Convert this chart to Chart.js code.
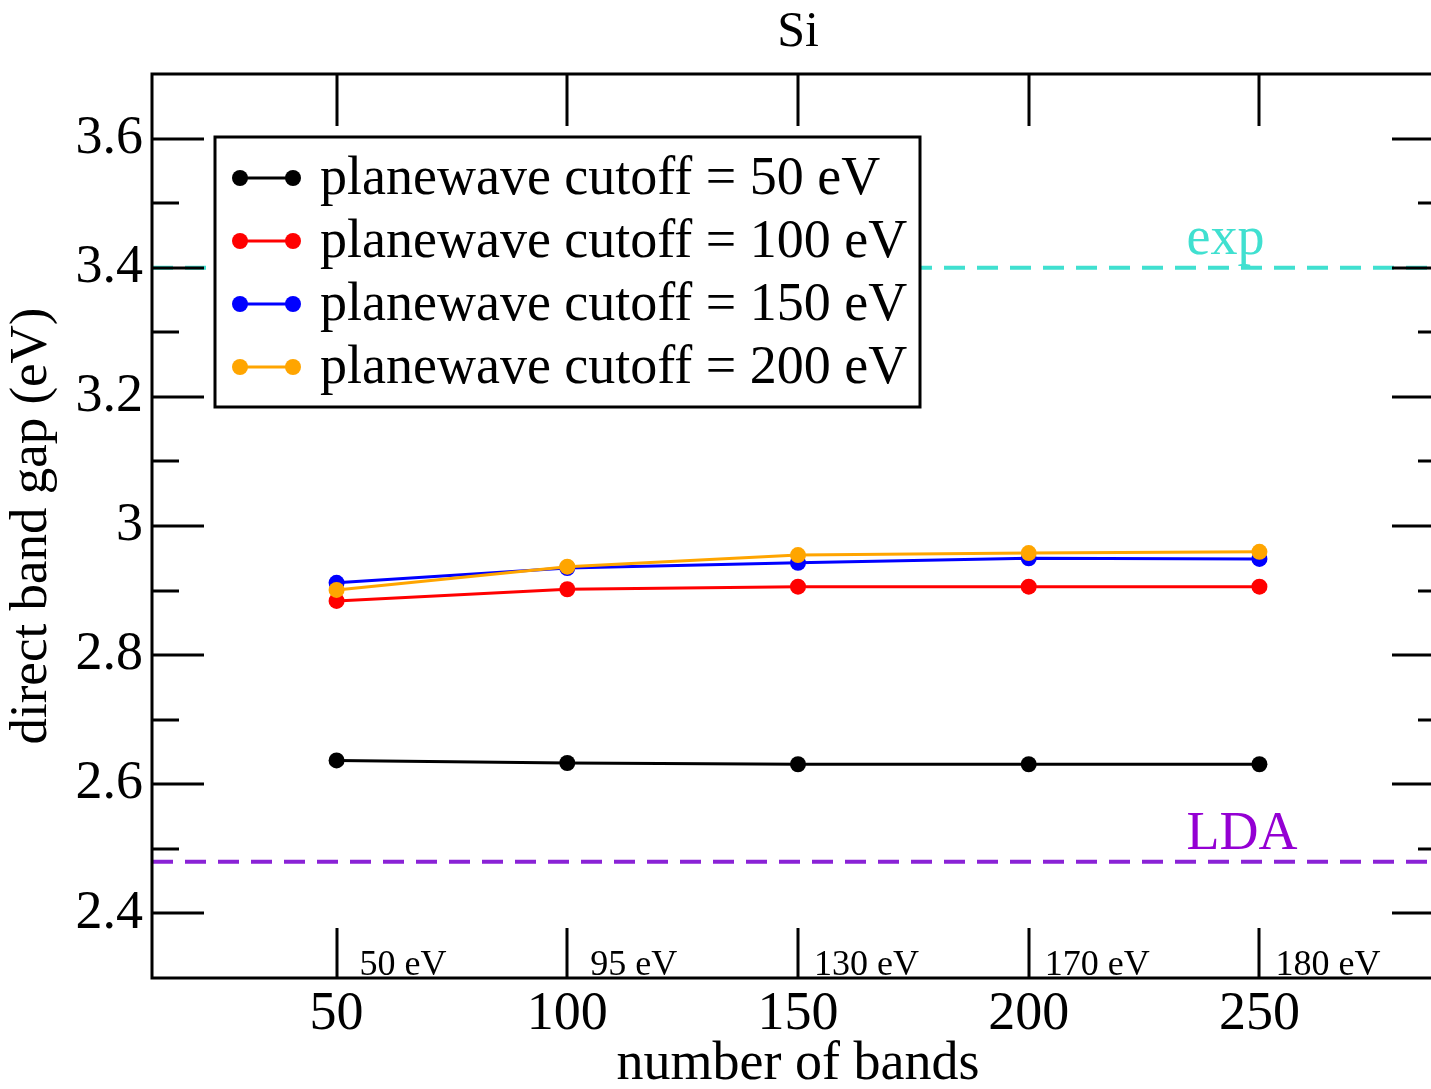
<!DOCTYPE html>
<html>
<head>
<meta charset="utf-8">
<title>Si band gap</title>
<script src="https://cdn.jsdelivr.net/npm/chart.js@4.4.1/dist/chart.umd.min.js"></script>
<style>
    html, body { margin: 0; padding: 0; overflow: hidden; background: #fff; }
    #wrap { width: 1460px; height: 1089px; }
</style>
</head>
<body>
<div id="wrap"><canvas id="graficoGap" width="1460" height="1089"></canvas></div>
<script>
// dados
const nBands = [50, 100, 150, 200, 250];
const gapCut50 = [2.637, 2.633, 2.631, 2.631, 2.631];
const gapCut100 = [2.884, 2.902, 2.906, 2.906, 2.906];
const gapCut150 = [2.912, 2.935, 2.943, 2.950, 2.949];
const gapCut200 = [2.901, 2.937, 2.955, 2.958, 2.960];
const seriesLabels = [
    'planewave cutoff = 50 eV',
    'planewave cutoff = 100 eV',
    'planewave cutoff = 150 eV',
    'planewave cutoff = 200 eV'
];
const expGap = 3.4;
const ldaGap = 2.48;
const cutoffNotes = ['50 eV', '95 eV', '130 eV', '170 eV', '180 eV'];
const xTicks = [50, 100, 150, 200, 250];
const yTicks = [2.4, 2.6, 2.8, 3.0, 3.2, 3.4, 3.6];
const yMinorTicks = [2.5, 2.7, 2.9, 3.1, 3.3, 3.5];

const serif = "'Liberation Serif', 'Times New Roman', serif";
const colors = ['#000000', '#ff0000', '#0000ff', '#ffa500'];
const expColor = '#40e0d0';
const ldaColor = '#9400d3';

function serie(values) {
    return nBands.map((b, i) => ({ x: b, y: values[i] }));
}

const allSeries = [gapCut50, gapCut100, gapCut150, gapCut200];
const datasets = allSeries.map((vals, i) => ({
    label: seriesLabels[i],
    data: serie(vals),
    borderColor: colors[i],
    backgroundColor: colors[i],
    borderWidth: 3,
    pointRadius: 8,
    pointHoverRadius: 8,
    pointBorderWidth: 0,
    tension: 0,
    order: 4 - i
}));

// linhas de referência (exp e LDA)
datasets.push({
    label: 'exp',
    data: [{ x: 10, y: expGap }, { x: 290, y: expGap }],
    borderColor: expColor,
    borderWidth: 4,
    borderDash: [21, 12],
    pointRadius: 0,
    order: 10
});
datasets.push({
    label: 'LDA',
    data: [{ x: 10, y: ldaGap }, { x: 290, y: ldaGap }],
    borderColor: '#8a22d6',
    borderWidth: 4,
    borderDash: [21, 12],
    pointRadius: 0,
    order: 10
});

// moldura, ticks internos, legenda e anotações
const decorPlugin = {
    id: 'decor',
    afterDatasetsDraw(chart) {
        const ctx = chart.ctx;
        const a = chart.chartArea;
        const xs = chart.scales.x;
        const ys = chart.scales.y;
        ctx.save();
        ctx.strokeStyle = '#000';
        ctx.lineWidth = 3;
        ctx.lineCap = 'butt';

        ctx.strokeRect(a.left, a.top, a.right - a.left, a.bottom - a.top);

        ctx.beginPath();
        xTicks.forEach(v => {
            const px = Math.round(xs.getPixelForValue(v));
            ctx.moveTo(px, a.top); ctx.lineTo(px, a.top + 52);
            ctx.moveTo(px, a.bottom); ctx.lineTo(px, a.bottom - 50);
        });
        yTicks.forEach(v => {
            const py = Math.round(ys.getPixelForValue(v));
            ctx.moveTo(a.left, py); ctx.lineTo(a.left + 52, py);
            ctx.moveTo(a.right, py); ctx.lineTo(a.right - 52, py);
        });
        yMinorTicks.forEach(v => {
            const py = Math.round(ys.getPixelForValue(v));
            ctx.moveTo(a.left, py); ctx.lineTo(a.left + 27, py);
            ctx.moveTo(a.right, py); ctx.lineTo(a.right - 26, py);
        });
        ctx.stroke();

        // notas de cutoff junto ao eixo x
        ctx.fillStyle = '#000';
        ctx.font = '36px ' + serif;
        ctx.textBaseline = 'alphabetic';
        ctx.textAlign = 'left';
        nBands.forEach((b, i) => {
            const dx = cutoffNotes[i].startsWith('1') ? 16 : 23;
            ctx.fillText(cutoffNotes[i], xs.getPixelForValue(b) + dx, a.bottom - 3);
        });

        // rótulos exp e LDA
        ctx.font = '54px ' + serif;
        ctx.fillStyle = expColor;
        ctx.fillText('exp', xs.getPixelForValue(234.2), ys.getPixelForValue(expGap) - 14);
        ctx.fillStyle = ldaColor;
        ctx.fillText('LDA', xs.getPixelForValue(234.2), ys.getPixelForValue(ldaGap) - 13);

        // legenda
        const lx = a.left + 63, ly = a.top + 63, lw = 705, lh = 270;
        ctx.fillStyle = '#fff';
        ctx.fillRect(lx, ly, lw, lh);
        ctx.strokeStyle = '#000';
        ctx.lineWidth = 3;
        ctx.strokeRect(lx, ly, lw, lh);
        ctx.font = '54px ' + serif;
        seriesLabels.forEach((lab, i) => {
            const y = ly + 41 + i * 63;
            ctx.strokeStyle = colors[i];
            ctx.fillStyle = colors[i];
            ctx.lineWidth = 3;
            ctx.beginPath();
            ctx.moveTo(lx + 25, y); ctx.lineTo(lx + 78, y);
            ctx.stroke();
            [lx + 25, lx + 78].forEach(cx => {
                ctx.beginPath();
                ctx.arc(cx, y, 8, 0, Math.PI * 2);
                ctx.fill();
            });
            ctx.fillStyle = '#000';
            ctx.fillText(lab, lx + 105, y + 16);
        });
        ctx.restore();
    }
};

const ctx = document.getElementById('graficoGap').getContext('2d');
const chart = new Chart(ctx, {
    type: 'line',
    data: { datasets: datasets },
    options: {
        responsive: false,
        animation: false,
        devicePixelRatio: 1,
        layout: { padding: { top: 0, left: 0, right: 16, bottom: 0 } },
        plugins: {
            legend: { display: false },
            tooltip: { enabled: false },
            title: {
                display: true,
                text: 'Si',
                fullSize: false,
                color: '#000',
                font: { family: serif, size: 50, weight: 'normal', lineHeight: 1.2 },
                padding: { top: 3, bottom: 11 }
            }
        },
        scales: {
            x: {
                type: 'linear',
                position: 'bottom',
                min: 10,
                max: 290,
                afterBuildTicks: s => { s.ticks = xTicks.map(v => ({ value: v })); },
                afterFit: s => { s.height = 111; },
                grid: { display: false, drawTicks: false },
                border: { display: false },
                ticks: {
                    color: '#000',
                    font: { family: serif, size: 54 },
                    padding: 4,
                    maxRotation: 0,
                    autoSkip: false
                },
                title: {
                    display: true,
                    text: 'number of bands',
                    color: '#000',
                    font: { family: serif, size: 54, lineHeight: 0.9 },
                    padding: 0
                }
            },
            y: {
                type: 'linear',
                min: 2.3,
                max: 3.7,
                afterBuildTicks: s => { s.ticks = yTicks.map(v => ({ value: v })); },
                afterFit: s => { s.width = 152; },
                grid: { display: false, drawTicks: false },
                border: { display: false },
                ticks: {
                    color: '#000',
                    font: { family: serif, size: 54 },
                    padding: 9,
                    callback: v => String(Number(v.toFixed(1)))
                },
                title: {
                    display: true,
                    text: 'direct band gap (eV)',
                    color: '#000',
                    font: { family: serif, size: 53, lineHeight: 1.2 },
                    padding: 0
                }
            }
        }
    },
    plugins: [decorPlugin]
});
</script>
</body>
</html>
